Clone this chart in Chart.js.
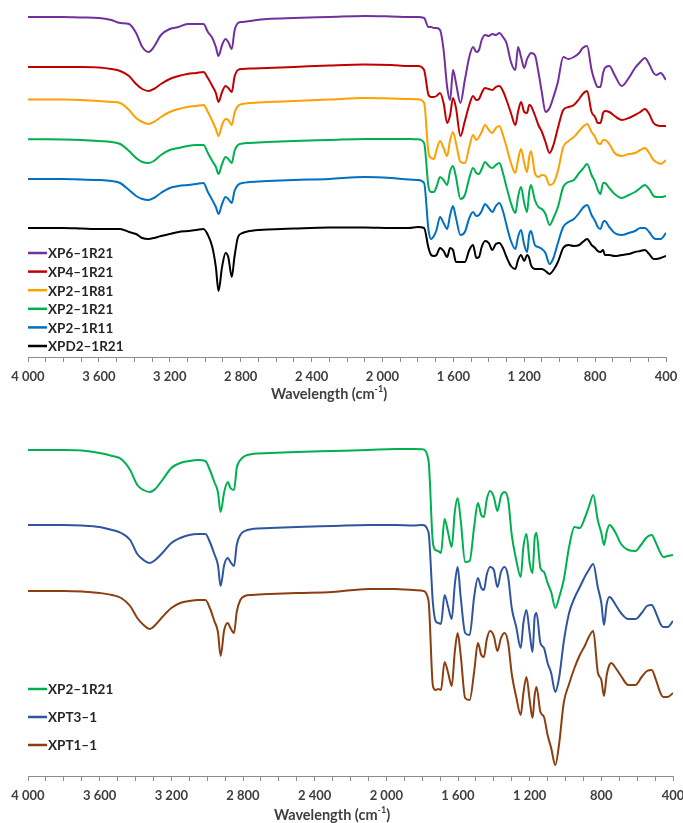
<!DOCTYPE html>
<html>
<head>
<meta charset="utf-8">
<title>FTIR spectra</title>
<script src="https://cdn.jsdelivr.net/npm/chart.js@4.4.1/dist/chart.umd.min.js"></script>
<style>
  html, body { margin: 0; padding: 0; background: #fff; overflow: hidden; }
  .panel { position: absolute; left: 0; width: 683px; }
  #top-panel    { top: 0;     height: 405px; }
  #bottom-panel { top: 405px; height: 418px; }
</style>
</head>
<body>
<div class="panel" id="top-panel"><canvas id="topChart" width="683" height="405"></canvas></div>
<div class="panel" id="bottom-panel"><canvas id="bottomChart" width="683" height="418"></canvas></div>

<script>
/* ── FTIR spectra, two stacked panels ─────────────────────────────────────────
   Values are offset transmittance in arbitrary units (0 = axis line),
   read off the original figure at a shared wavenumber grid.
─────────────────────────────────────────────────────────────────────────────── */

// ── Wavenumber grid (cm-1) ───────────────────────────────────────────────────
const wavenumbers = [
  4000, 3900, 3800, 3700, 3600, 3530, 3480, 3430, 3390, 3355, 3320, 3290, 3250, 3200, 3150, 3100, 3050, 3010,
  2985, 2960, 2940, 2925, 2905, 2885, 2870, 2850, 2835, 2815, 2790, 2750, 2650, 2500, 2300, 2100, 1950, 1850,
  1800, 1765, 1740, 1725, 1710, 1695, 1675, 1655, 1635, 1618, 1602, 1585, 1560, 1535, 1510, 1489, 1470, 1455,
  1440, 1421, 1400, 1380, 1360, 1340, 1320, 1300, 1275, 1250, 1235, 1218, 1200, 1184, 1172, 1162, 1140, 1120,
  1100, 1080, 1057, 1035, 1010, 980, 950, 920, 890, 870, 845, 820, 800, 785, 770, 755, 745, 720,
  690, 650, 610, 575, 545, 519, 495, 470, 455, 430, 400,
];

// ── Tick labels ──────────────────────────────────────────────────────────────
const tickValues = [4000, 3600, 3200, 2800, 2400, 2000, 1600, 1200, 800, 400];
const tickLabels = ["4 000", "3 600", "3 200", "2 800", "2 400", "2 000", "1 600", "1 200", "800", "400"];

// ── Top panel series ─────────────────────────────────────────────────────────
const xp6_1r21 = [
  340, 340, 340, 339.5, 339, 337, 334, 333, 324, 310, 305, 310, 322, 328, 330, 333, 333, 333,
  325, 319, 310, 301, 312, 318, 315, 308, 326, 334, 335, 336, 338, 339, 340, 341, 340.5, 340,
  340, 339, 330, 330, 329, 329, 327, 307, 270, 257, 287, 274, 254, 277, 300, 310, 305, 307,
  317, 322, 321, 323, 322, 324, 320, 314, 295, 287, 310, 300, 289, 298, 302, 304, 302, 285,
  264, 245, 249, 260, 275, 300, 298, 300, 304, 309, 311, 287, 275, 270, 270, 284, 289, 291,
  282, 271, 279, 289, 295, 299, 293, 284, 282, 284, 277,
];
const xp4_1r21 = [
  290, 290, 290, 290, 289.5, 288, 286, 281, 273, 268, 266, 268, 273, 278, 281, 283, 284, 285,
  279, 271, 264, 255, 265, 271, 269, 265, 280, 287, 288, 288.5, 289, 290, 291.5, 292.5, 292, 291,
  291, 287, 262, 260, 260, 261, 264, 254, 234, 242, 259, 249, 221, 236, 252, 261, 257, 258,
  264, 269, 268, 267, 270, 271, 266, 257, 244, 232, 245, 255, 245, 244, 252, 251, 242, 232,
  225, 215, 204, 212, 229, 247, 250, 252, 258, 263, 266, 245, 240, 234, 234, 244, 246, 245,
  241, 237, 239, 242, 245, 248, 243, 234, 232, 231, 231,
];
const xp2_1r81 = [
  257.5, 257.5, 257.5, 257, 256, 255, 254, 247, 239, 235, 233, 235, 240, 245, 248, 250, 251, 252,
  245, 236, 228, 221, 232, 238, 237, 232, 244, 251, 253, 254, 255, 256, 257.5, 259, 258.5, 258,
  257.7, 254, 204, 199, 198, 207, 216, 209, 201, 217, 225, 214, 195, 194, 210, 222, 217, 220,
  225, 232, 227, 224, 229, 231, 222, 210, 194, 184, 197, 208, 194, 185, 200, 206, 184, 180,
  182, 181, 172, 174, 186, 210, 216, 220, 226, 230, 233, 225, 220, 214, 213, 217, 217, 213,
  204, 201, 203, 204, 207, 209, 204, 197, 195, 193, 197,
];
const xp2_1r21 = [
  217.7, 217.7, 217.5, 217, 216, 215, 213, 206, 199, 195, 194, 196, 202, 207, 209, 211, 212, 212,
  204, 196, 190, 183, 193, 200, 198, 194, 206, 212, 213.5, 214, 215, 216, 217, 218, 218, 218,
  217.7, 214, 170, 165, 165, 170, 180, 177, 172, 186, 191, 180, 158, 162, 179, 189, 184, 183,
  188, 195, 191, 189, 192, 194, 184, 170, 154, 144, 160, 170, 154, 145, 165, 172, 157, 150,
  148, 143, 132, 139, 150, 170, 175, 177, 184, 188, 193, 182, 175, 167, 163, 174, 174, 169,
  163, 159, 162, 165, 169, 172, 168, 161, 160, 160, 161,
];
const xp2_1r11 = [
  178, 178, 178, 177.5, 177, 176, 174, 167, 161, 158, 157, 159, 164, 169, 171, 172, 173, 174,
  165, 157, 150, 143, 153, 160, 158, 154, 166, 172, 174, 175, 176, 177, 178, 180, 179, 177.5,
  177, 174, 127, 118, 121, 127, 140, 134, 128, 142, 151, 139, 122, 125, 139, 145, 141, 142,
  146, 153, 149, 145, 151, 154, 146, 132, 116, 108, 120, 127, 112, 105, 122, 126, 112, 110,
  108, 104, 93, 99, 114, 130, 135, 138, 144, 149, 152, 142, 136, 130, 128, 135, 136, 130,
  124, 122, 124, 126, 129, 129, 125, 119, 118, 118, 124,
];
const xpd2_1r21 = [
  129, 129, 129, 128.5, 128, 128, 128, 125, 123, 119, 118, 119, 121, 123, 125, 126, 127, 128,
  122, 110, 90, 66, 90, 104, 100, 80, 100, 120, 124, 126, 127.5, 128.5, 129.5, 129.5, 129, 129,
  130, 129, 109, 102, 101, 102, 109, 106, 100, 109, 107, 95, 95, 95, 107, 112, 99, 100,
  110, 116, 114, 107, 113, 114, 109, 100, 91, 88, 97, 102, 96, 102, 99, 92, 88, 88,
  88, 86, 83, 87, 95, 109, 112, 111, 112, 115, 118, 112, 109, 106, 105, 107, 102, 102,
  101, 102, 103, 105, 106, 107, 103, 98, 98, 99, 101,
];

// ── Bottom panel series ──────────────────────────────────────────────────────
const xp2_1r21_b = [
  326, 326, 326, 325.5, 323, 320, 317, 306, 291, 286, 284, 287, 296, 308, 313, 315, 316, 315,
  306, 294, 284, 264, 284, 294, 288, 286, 308, 316, 320, 322, 323, 324, 325, 326, 327, 327,
  326.7, 316, 233, 226, 225, 223, 257, 243, 229, 264, 278, 256, 214, 215, 249, 273, 261, 259,
  276, 285, 279, 265, 280, 284, 276, 241, 216, 199, 229, 242, 213, 203, 238, 243, 208, 204,
  193, 184, 168, 179, 196, 229, 249, 248, 259, 269, 281, 256, 243, 231, 244, 251, 250, 243,
  232, 226, 225, 232, 239, 241, 233, 223, 219, 220, 221,
];
const xpt3_1 = [
  251, 251, 251, 250.5, 249, 246, 243, 236, 222, 216, 213, 216, 223, 233, 238, 241, 242, 242,
  234, 222, 211, 190, 211, 218, 214, 210, 231, 241, 245, 247, 248, 249, 250, 251, 251, 250.5,
  251, 244, 173, 155, 153, 152, 181, 169, 157, 191, 209, 179, 143, 141, 179, 198, 188, 186,
  201, 209, 206, 189, 204, 209, 199, 168, 149, 128, 153, 166, 143, 124, 159, 163, 133, 128,
  113, 103, 84, 99, 134, 163, 178, 189, 200, 206, 212, 189, 173, 151, 172, 179, 178, 171,
  163, 157, 157, 163, 170, 171, 163, 152, 149, 149, 155,
];
const xpt1_1 = [
  185, 185, 185, 184.5, 183, 181, 178, 170, 158, 151, 147, 151, 159, 168, 173, 175, 176, 176,
  168, 155, 144, 120, 146, 153, 148, 143, 164, 176, 180, 181, 182, 183, 184, 187, 187, 186,
  185.3, 176, 90, 86, 87, 86, 114, 103, 90, 124, 143, 121, 78, 76, 104, 133, 121, 119,
  136, 145, 140, 125, 138, 143, 133, 102, 79, 61, 83, 99, 76, 58, 81, 89, 64, 59,
  41, 28, 11, 33, 73, 92, 108, 121, 131, 139, 145, 104, 96, 80, 101, 111, 113, 108,
  100, 91, 91, 99, 105, 106, 96, 83, 79, 79, 83,
];

// ── Series → colours / legend text ───────────────────────────────────────────
const topSeries = [
  { label: "XP6–1R21",  values: xp6_1r21,  color: "#7030A0" },
  { label: "XP4–1R21",  values: xp4_1r21,  color: "#C00000" },
  { label: "XP2–1R81",  values: xp2_1r81,  color: "#FFA000" },
  { label: "XP2–1R21",  values: xp2_1r21,  color: "#00B050" },
  { label: "XP2–1R11",  values: xp2_1r11,  color: "#0070C0" },
  { label: "XPD2–1R21", values: xpd2_1r21, color: "#000000" },
];
const bottomSeries = [
  { label: "XP2–1R21", values: xp2_1r21_b, color: "#00B050" },
  { label: "XPT3–1",   values: xpt3_1,     color: "#2F55A0" },
  { label: "XPT1–1",   values: xpt1_1,     color: "#8B3E0F" },
];

// ── Legend inside the plot (bottom-left) + axis title with real superscript ──
const panelDecor = {
  id: "panelDecor",
  afterDraw(chart, args, opts) {
    const ctx = chart.ctx;
    ctx.save();

    // legend
    ctx.font = "bold 13.5px Lato";
    ctx.textBaseline = "middle";
    ctx.textAlign = "left";
    chart.data.datasets.forEach((ds, i) => {
      const y = opts.legend.y + i * opts.legend.step;
      ctx.strokeStyle = ds.borderColor;
      ctx.lineWidth = 2.5;
      ctx.beginPath();
      ctx.moveTo(opts.legend.x, y);
      ctx.lineTo(opts.legend.x + 19, y);
      ctx.stroke();
      ctx.fillStyle = "#262626";
      ctx.fillText(ds.label, opts.legend.x + 20, y + 1);
    });

    // axis title: "Wavelength (cm" + superscript "-1" + ")"
    const main = "bold 14.5px Lato";
    const sup = "bold 9px Lato";
    const parts = [["Wavelength (cm", main, 0], ["-1", sup, -5], [")", main, 0]];
    let width = 0;
    parts.forEach(([t, f]) => { ctx.font = f; width += ctx.measureText(t).width; });
    let x = opts.title.cx - width / 2;
    ctx.fillStyle = "#404040";
    ctx.textBaseline = "middle";
    parts.forEach(([t, f, dy]) => {
      ctx.font = f;
      ctx.fillText(t, x, opts.title.y + dy);
      x += ctx.measureText(t).width;
    });

    ctx.restore();
  },
};

function tickLabel(value) {
  const i = tickValues.indexOf(value);
  return i >= 0 ? tickLabels[i] : "";
}

function makeChart(canvasId, series, cfg) {
  const ctx = document.getElementById(canvasId).getContext("2d");
  return new Chart(ctx, {
    type: "line",
    data: {
      datasets: series.map((s) => ({
        label: s.label,
        data: wavenumbers.map((wn, i) => ({ x: wn, y: s.values[i] })),
        borderColor: s.color,
        borderWidth: 2,
        pointRadius: 0,
        fill: false,
        cubicInterpolationMode: "monotone",
      })),
    },
    plugins: [panelDecor],
    options: {
      responsive: false,
      animation: false,
      layout: { padding: { top: cfg.padTop, left: 28, right: cfg.padRight, bottom: 0 } },
      plugins: {
        legend: { display: false },
        tooltip: { enabled: false },
        panelDecor: { legend: cfg.legend, title: cfg.title },
      },
      scales: {
        x: {
          type: "linear",
          reverse: true,
          min: 400,
          max: 4000,
          ticks: {
            stepSize: 100,
            autoSkip: false,
            maxRotation: 0,
            padding: 7,
            color: "#404040",
            font: { family: "Lato", size: 13, weight: "bold" },
            callback: (v) => tickLabel(v),
          },
          grid: { drawOnChartArea: false, drawTicks: true, tickLength: 5, tickColor: "#8c8c8c" },
          border: { display: true, color: "#8c8c8c", width: 1 },
          title: { display: false },
          afterFit: (scale) => {
            scale.height = cfg.axisHeight;
            scale.paddingLeft = 0;
            scale.paddingRight = 0;
          },
        },
        y: { display: false, min: 0, max: cfg.yMax },
      },
    },
  });
}

// ── Init ─────────────────────────────────────────────────────────────────────
makeChart("topChart", topSeries, {
  padTop: 10, padRight: 17, yMax: 347, axisHeight: 48,
  legend: { x: 28, y: 253, step: 18.6 },
  title: { cx: 329, y: 394 },
});
makeChart("bottomChart", bottomSeries, {
  padTop: 30, padRight: 10, yMax: 341, axisHeight: 47,
  legend: { x: 28, y: 284, step: 28 },
  title: { cx: 332, y: 410 },
});
</script>
</body>
</html>
